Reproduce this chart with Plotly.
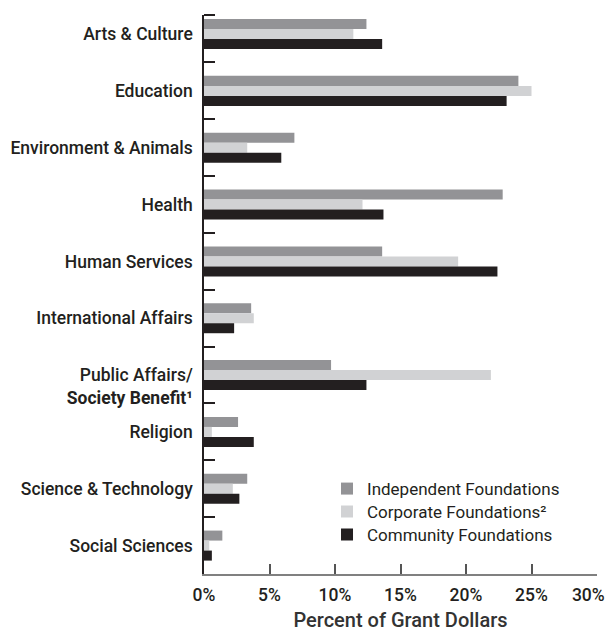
import plotly.graph_objects as go

categories = [
    "Arts & Culture",
    "Education",
    "Environment & Animals",
    "Health",
    "Human Services",
    "International Affairs",
    " <br>Public Affairs/<br><b>Society Benefit¹</b>",
    "Religion",
    "Science & Technology",
    "Social Sciences",
]
independent = [12.4, 24.0, 6.9, 22.8, 13.6, 3.6, 9.7, 2.6, 3.3, 1.4]
corporate = [11.4, 25.0, 3.3, 12.1, 19.4, 3.8, 21.9, 0.6, 2.2, 0.4]
community = [13.6, 23.1, 5.9, 13.7, 22.4, 2.3, 12.4, 3.8, 2.7, 0.6]
series_names = ["Independent Foundations", "Corporate Foundations²", "Community Foundations"]
series_colors = ["#939396", "#d1d2d4", "#231f20"]
x_ticks = [0, 5, 10, 15, 20, 25, 30]
x_tick_labels = ["0%", "5%", "10%", "15%", "20%", "25%", "30%\u00a0\u00a0\u00a0\u00a0"]

idx = list(range(len(categories)))
legend_ids = ["legend", "legend2", "legend3"]
legend_y = [0.152, 0.111, 0.070]

fig = go.Figure()
for name, vals, col, lid in zip(series_names, [independent, corporate, community], series_colors, legend_ids):
    fig.add_trace(go.Bar(
        y=idx, x=vals, name=name, orientation="h", legend=lid,
        marker=dict(color=col, line=dict(width=0)),
    ))

top = -0.335
bottom = len(categories) - 0.5
boundaries = [top] + [i + 0.5 for i in idx[:-1]]

legend_style = dict(
    x=0.313, xanchor="left", yanchor="middle",
    font=dict(family="Roboto", size=17, color="#231f20"),
    bgcolor="rgba(0,0,0,0)", itemwidth=30,
)

fig.update_layout(
    width=607, height=624,
    margin=dict(l=196, r=18, t=7, b=58, autoexpand=False),
    paper_bgcolor="white", plot_bgcolor="white",
    barmode="group", bargap=0.472, bargroupgap=0,
    font=dict(family="Roboto", color="#231f20"),
    showlegend=True,
    legend=dict(y=legend_y[0], **legend_style),
    legend2=dict(y=legend_y[1], **legend_style),
    legend3=dict(y=legend_y[2], **legend_style),
    xaxis=dict(
        range=[0, 30], tickvals=x_ticks, ticktext=x_tick_labels,
        ticks="inside", ticklen=10, tickcolor="#555555", tickwidth=1.5,
        showline=True, linecolor="#808080", linewidth=2,
        showgrid=False, zeroline=False, automargin=False,
        ticklabelstandoff=4, ticklabeloverflow="allow",
        tickfont=dict(size=17.5, color="#231f20", weight=500),
        title=dict(text="Percent of Grant Dollars", standoff=16,
                   font=dict(size=20, color="#333333", weight=500)),
    ),
    yaxis=dict(
        range=[bottom, top], tickvals=idx, ticktext=categories,
        ticks="", showline=True, linecolor="#231f20", linewidth=1.5,
        showgrid=False, zeroline=False, ticklabelstandoff=6, automargin=False,
        tickfont=dict(size=17.5, color="#231f20", weight=500),
        minor=dict(tickmode="array", tickvals=boundaries, ticks="inside",
                   ticklen=11, tickcolor="#231f20", tickwidth=1.5, showgrid=False),
    ),
)

fig.write_html("out.html")
